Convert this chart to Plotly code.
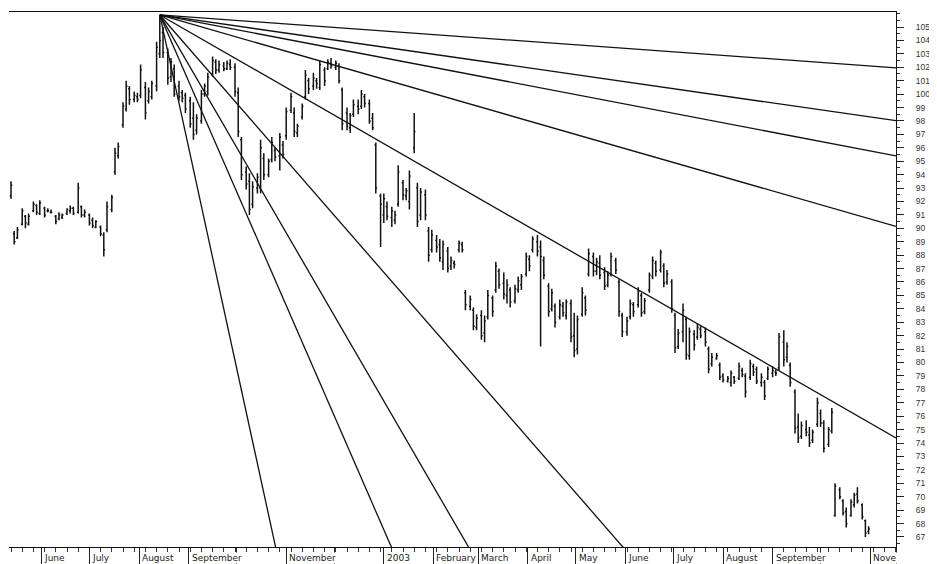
import pandas as pd
import plotly.graph_objects as go

# bars: Mon / Wed / Fri, mid-May 2002 to end of October 2003
dias = pd.bdate_range("2002-05-13", "2003-10-31")
dias = dias[dias.weekday.isin([0, 2, 4])]

abertura = [
    92.4, 89.6, 89.3, 90.3, 90.9, 90.3, 91.3, 91.7, 91.1, 91.5, 91.3, 91.2,
    90.9, 90.7, 90.8, 91.1, 91.3, 91.5, 91.2, 91.6, 91.0, 91.0, 90.6, 90.1,
    90.1, 89.5, 89.9, 91.4, 94.2, 95.4, 97.7, 98.9, 100.4, 99.6, 99.8, 99.9,
    100.5, 99.5, 99.8, 100.6, 103.0, 104.6, 103.1, 101.3, 101.9, 100.6, 100.1, 99.9,
    99.5, 98.2, 97.3, 98.0, 100.0, 100.2, 101.5, 102.4, 101.8, 102.1, 101.9, 102.2,
    102.0, 100.1, 96.6, 94.2, 93.5, 91.8, 93.0, 93.0, 95.2, 94.0, 95.1, 95.8,
    95.4, 96.2, 96.9, 98.8, 98.6, 97.1, 98.3, 99.8, 101.0, 100.6, 101.0, 100.5,
    101.8, 101.9, 102.3, 102.0, 102.1, 100.3, 98.6, 97.5, 98.5, 99.1, 99.1, 99.8,
    99.3, 98.2, 96.2, 92.4, 91.0, 91.6, 90.8, 90.6, 91.8, 93.4, 92.4, 92.0,
    96.0, 93.0, 91.0, 92.5, 89.8, 88.4, 89.1, 88.8, 87.5, 88.3, 87.2, 87.4,
    88.4, 88.8, 85.2, 84.2, 83.9, 82.6, 83.5, 82.2, 83.4, 84.8, 85.4, 86.8,
    85.9, 85.0, 85.4, 84.6, 85.4, 85.8, 86.6, 87.7, 88.4, 89.0, 88.6, 87.6,
    85.7, 84.0, 84.2, 83.4, 84.2, 83.5, 84.4, 82.0, 81.0, 83.6, 84.8, 86.6,
    87.9, 86.8, 87.4, 86.7, 85.8, 86.6, 87.6, 86.0, 83.5, 82.3, 83.4, 84.3,
    84.3, 85.0, 83.8, 85.4, 86.4, 87.4, 86.9, 87.2, 86.0, 86.0, 83.5, 81.2,
    82.3, 83.2, 80.5, 82.1, 81.9, 82.5, 82.3, 81.0, 79.9, 80.3, 79.8, 79.0,
    78.6, 78.5, 78.9, 78.8, 79.4, 79.0, 78.9, 79.7, 79.5, 78.5, 78.5, 78.8,
    79.2, 79.3, 79.6, 81.5, 80.4, 79.8, 77.8, 75.2, 74.5, 75.0, 74.6, 74.2,
    75.4, 76.2, 75.5, 73.9, 74.9, 68.6, 70.5, 69.7, 68.9, 68.6, 69.4, 70.2,
    69.4, 68.2, 67.4,
]
maxima = [
    93.5, 89.8, 90.1, 91.5, 91.0, 91.1, 92.0, 91.8, 92.1, 91.6, 91.5, 91.4,
    91.0, 91.2, 91.1, 91.5, 91.7, 91.6, 93.4, 91.7, 91.4, 91.1, 90.8, 90.6,
    90.2, 89.7, 92.0, 92.5, 96.0, 96.4, 99.4, 101.0, 100.6, 100.2, 100.1, 102.2,
    100.9, 100.5, 101.0, 103.9, 105.9, 105.0, 103.4, 102.7, 102.2, 101.0, 100.3, 100.1,
    99.8, 99.4, 98.5, 100.3, 100.8, 101.6, 102.8, 102.6, 102.5, 102.4, 102.5, 102.6,
    102.3, 100.5, 96.8, 94.6, 94.1, 93.5, 94.1, 96.6, 95.6, 95.2, 96.8, 96.0,
    97.1, 96.5, 99.0, 100.1, 99.0, 97.8, 99.3, 101.8, 101.2, 101.6, 101.2, 102.5,
    102.0, 102.6, 102.7, 102.5, 102.3, 100.5, 99.0, 98.6, 99.6, 99.6, 100.3, 100.0,
    99.6, 98.6, 96.4, 92.6, 92.6, 92.0, 91.6, 91.3, 94.7, 93.6, 93.0, 94.3,
    98.6, 93.4, 93.0, 92.9, 90.1, 89.9, 89.5, 89.2, 89.1, 88.6, 87.9, 87.6,
    89.1, 89.0, 85.4, 85.0, 84.1, 83.6, 83.9, 83.5, 85.4, 85.0, 87.5, 87.0,
    86.7, 86.2, 85.6, 85.8, 86.4, 86.6, 88.2, 88.0, 89.4, 89.5, 89.1, 87.9,
    85.9, 85.5, 84.4, 84.7, 84.5, 84.7, 84.7, 83.7, 83.5, 85.6, 85.0, 88.5,
    88.2, 87.8, 88.0, 87.1, 86.8, 88.2, 87.8, 86.2, 83.7, 83.4, 84.7, 84.5,
    85.6, 85.2, 84.8, 86.7, 87.9, 87.6, 88.4, 87.4, 86.9, 86.2, 83.7, 82.5,
    84.4, 83.4, 82.6, 82.4, 82.9, 82.7, 82.6, 81.2, 80.7, 80.7, 80.0, 79.2,
    79.0, 79.4, 79.0, 80.0, 79.6, 79.2, 80.2, 79.9, 79.7, 79.2, 78.7, 79.7,
    79.7, 79.5, 82.2, 82.4, 81.5, 80.0, 78.0, 76.2, 75.6, 75.7, 75.2, 75.0,
    77.4, 76.5, 75.7, 75.2, 76.6, 71.0, 70.7, 69.8, 69.2, 69.8, 70.3, 70.7,
    69.5, 68.3, 67.8,
]
minimas = [
    92.2, 88.8, 89.2, 90.2, 90.0, 90.2, 91.2, 91.0, 91.0, 90.8, 91.2, 91.1,
    90.3, 90.6, 90.7, 91.0, 91.1, 91.0, 91.1, 90.8, 90.8, 90.2, 90.0, 90.0,
    89.4, 87.9, 89.7, 91.2, 94.0, 95.2, 97.5, 98.7, 99.2, 99.4, 99.4, 99.7,
    98.1, 99.3, 99.6, 100.2, 102.7, 102.7, 100.7, 100.9, 99.8, 99.5, 99.4, 98.6,
    97.5, 96.6, 97.0, 97.8, 99.8, 99.9, 101.3, 101.5, 101.6, 101.7, 101.8, 101.8,
    99.8, 96.8, 93.6, 92.9, 91.0, 91.5, 92.6, 92.6, 93.6, 93.8, 94.9, 95.0,
    94.3, 95.2, 96.6, 98.6, 96.8, 96.8, 98.1, 99.6, 100.0, 100.3, 100.4, 100.3,
    100.6, 101.8, 101.9, 101.8, 100.8, 97.3, 97.3, 97.1, 98.3, 98.5, 98.9, 99.0,
    97.8, 97.3, 92.6, 88.6, 90.4, 90.6, 90.1, 90.3, 91.6, 92.1, 92.1, 91.4,
    95.6, 90.1, 90.6, 90.6, 87.5, 88.2, 88.2, 87.5, 86.9, 86.7, 86.9, 87.0,
    88.2, 88.2, 83.9, 83.9, 82.4, 82.4, 81.7, 81.5, 83.2, 83.4, 85.2, 85.5,
    84.7, 84.4, 84.1, 84.4, 85.2, 85.4, 86.4, 86.8, 88.2, 87.9, 81.2, 86.2,
    83.4, 83.8, 82.6, 83.2, 83.4, 83.2, 81.5, 80.4, 80.6, 83.4, 83.5, 86.4,
    86.4, 86.5, 86.2, 85.4, 85.6, 86.4, 86.6, 83.4, 81.9, 82.0, 83.2, 83.4,
    84.1, 83.4, 83.6, 85.2, 86.2, 86.4, 86.7, 85.6, 85.8, 83.7, 80.7, 81.0,
    81.5, 80.2, 80.2, 80.9, 81.7, 81.8, 81.2, 79.2, 79.7, 80.2, 78.7, 78.5,
    78.5, 78.2, 78.4, 78.7, 78.9, 77.4, 78.7, 79.0, 78.4, 78.2, 77.2, 78.7,
    78.9, 79.0, 79.4, 79.7, 80.0, 78.2, 74.7, 74.0, 74.3, 74.5, 73.7, 74.0,
    75.2, 75.2, 73.3, 73.7, 74.7, 68.5, 69.8, 68.6, 67.7, 68.5, 69.2, 69.5,
    68.3, 67.0, 67.2,
]
fechamento = [
    93.2, 89.0, 89.9, 91.3, 90.4, 90.9, 91.8, 91.2, 91.9, 91.0, 91.3, 91.2,
    90.5, 91.0, 91.0, 91.4, 91.5, 91.1, 93.0, 91.0, 91.2, 90.4, 90.2, 90.5,
    89.6, 88.4, 91.6, 92.3, 95.6, 96.1, 99.1, 100.6, 99.6, 99.9, 99.6, 101.8,
    98.6, 100.2, 100.8, 103.5, 104.0, 103.1, 101.2, 102.4, 100.0, 99.8, 99.7, 98.9,
    97.8, 97.0, 98.2, 100.0, 100.6, 101.3, 102.5, 101.8, 102.2, 101.9, 102.3, 102.0,
    100.2, 97.2, 94.0, 93.3, 91.4, 93.1, 93.8, 96.0, 94.0, 95.0, 96.4, 95.3,
    96.8, 95.5, 98.7, 99.8, 97.2, 97.6, 99.1, 101.4, 100.4, 101.2, 100.8, 102.2,
    101.0, 102.4, 102.1, 102.3, 101.0, 97.8, 97.6, 98.4, 99.2, 98.9, 100.0, 99.3,
    98.0, 97.5, 93.0, 91.8, 92.2, 90.9, 91.3, 91.0, 94.2, 92.5, 92.8, 93.9,
    97.2, 90.5, 92.7, 91.0, 88.0, 89.5, 88.6, 87.8, 88.8, 87.0, 87.6, 87.3,
    88.9, 88.4, 84.3, 84.7, 82.7, 83.3, 82.0, 83.1, 85.0, 83.8, 87.2, 85.8,
    85.1, 85.8, 84.5, 85.5, 86.1, 86.4, 87.9, 87.2, 89.2, 88.3, 87.9, 86.5,
    83.8, 85.2, 83.0, 84.3, 83.7, 84.5, 81.9, 80.9, 83.2, 85.2, 83.9, 88.1,
    86.8, 87.5, 86.5, 85.7, 86.5, 87.9, 86.9, 83.8, 82.3, 83.1, 84.4, 83.8,
    85.3, 83.7, 84.6, 86.5, 87.6, 86.8, 88.2, 85.9, 86.6, 84.0, 81.1, 82.2,
    83.9, 80.6, 82.3, 81.3, 82.6, 82.0, 81.5, 79.5, 80.4, 80.5, 78.9, 78.7,
    78.8, 79.2, 78.6, 79.7, 79.1, 77.8, 79.9, 79.3, 78.6, 78.9, 77.5, 79.5,
    79.4, 79.2, 81.9, 80.2, 81.2, 78.5, 75.1, 74.4, 75.3, 74.8, 74.0, 74.8,
    77.0, 75.5, 73.6, 75.0, 76.3, 70.8, 70.0, 68.8, 68.0, 69.6, 70.1, 69.7,
    68.5, 67.3, 67.6,
]

# Gann fan from the August 2002 top
origem_data = "2002-08-14"
origem_preco = 105.9
inclinacao_1x1 = 0.0685  # price per calendar day
razoes = [1 / 8, 1 / 4, 1 / 3, 1 / 2, 1, 2, 3, 4, 8]

inicio_x = "2002-05-11 18:00"
fim_x = "2003-11-17 03:00"

meses = pd.date_range("2002-06-01", "2003-11-01", freq="MS")
rotulos_data = ["2002-06-01", "2002-07-01", "2002-08-01", "2002-09-01", "2002-11-01",
                "2003-01-01", "2003-02-01", "2003-03-01", "2003-04-01", "2003-05-01",
                "2003-06-01", "2003-07-01", "2003-08-01", "2003-09-01", "2003-11-01"]
rotulos = ["June", "July", "August", "September", "November", "2003", "February",
           "March", "April", "May", "June", "July", "August", "September", "Nove"]

fig = go.Figure()
fig.add_trace(go.Ohlc(
    x=dias, open=abertura, high=maxima, low=minimas, close=fechamento,
    increasing=dict(line=dict(color="#111", width=1.5)),
    decreasing=dict(line=dict(color="#111", width=1.5)),
    tickwidth=0.4, showlegend=False, hoverinfo="skip",
))

dias_fan = (pd.Timestamp(fim_x) - pd.Timestamp(origem_data)).total_seconds() / 86400
for r in razoes:
    fig.add_trace(go.Scatter(
        x=[origem_data, fim_x],
        y=[origem_preco, origem_preco - inclinacao_1x1 * r * dias_fan],
        mode="lines", line=dict(color="#111", width=1.3),
        showlegend=False, hoverinfo="skip",
    ))

for d, t in zip(rotulos_data, rotulos):
    fig.add_annotation(
        x=d, y=0, xref="x", yref="paper", text=t, showarrow=False,
        xanchor="left", yanchor="top", xshift=2, yshift=-5,
        bgcolor="white", borderpad=0,
        font=dict(family="DejaVu Sans", size=9, color="#222"),
    )

# the page body adds 8px around the figure, so margins are offset to compensate
fig.update_layout(
    width=937, height=564,
    margin=dict(l=1, r=49, t=4, b=25, autoexpand=False),
    paper_bgcolor="white", plot_bgcolor="white",
    showlegend=False,
    xaxis=dict(
        type="date", range=[inicio_x, fim_x], rangeslider=dict(visible=False),
        automargin=False, showgrid=False, zeroline=False,
        showline=True, linecolor="#111", linewidth=1.3, mirror=True,
        ticks="outside", ticklen=17, tickcolor="#222", tickwidth=1,
        tickvals=list(meses) + [pd.Timestamp(fim_x)], showticklabels=False,
        minor=dict(ticks="outside", ticklen=4, dtick=7 * 86400000,
                   tick0="2002-05-13", tickcolor="#333", showgrid=False),
    ),
    yaxis=dict(
        side="right", range=[66.25, 106.12], automargin=False,
        tickvals=list(range(67, 106)), showgrid=False, zeroline=False,
        showline=True, linecolor="#111", linewidth=1.3,
        ticks="outside", ticklen=7, tickcolor="#222",
        ticklabelstandoff=10,
        tickfont=dict(family="Liberation Sans Narrow, Liberation Sans", size=8.5, color="#333"),
        minor=dict(ticks="outside", ticklen=3, dtick=0.5, tickcolor="#333", showgrid=False),
    ),
)

fig.write_html("out.html")
